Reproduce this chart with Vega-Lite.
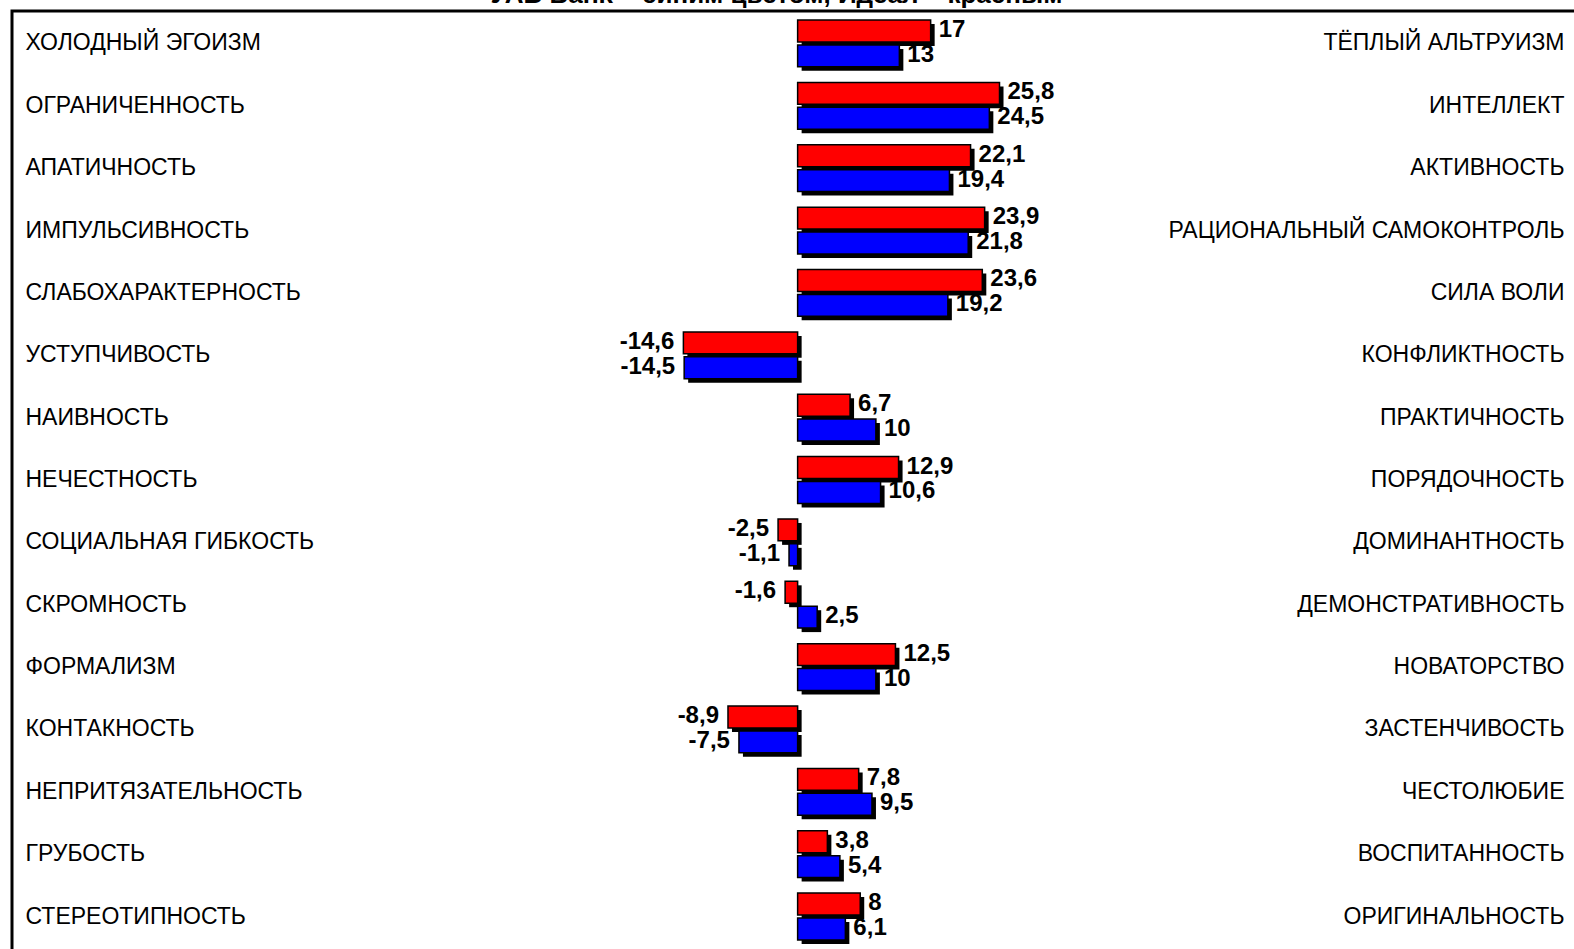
{
  "$schema": "https://vega.github.io/schema/vega-lite/v6.json",
  "autosize": "none",
  "width": 1565,
  "height": 943,
  "padding": {"left": 12, "top": 11, "right": -3, "bottom": -5},
  "background": "white",
  "title": {"text": "УАБ Bank – синим цветом, Идеал – красным", "fontSize": 26, "font": "Liberation Sans", "fontWeight": "bold", "color": "black", "anchor": "middle", "offset": 3, "dx": -18},
  "config": {
    "view": {"stroke": "black", "strokeWidth": 3},
    "locale": {"number": {"decimal": ",", "thousands": " ", "grouping": [3], "currency": ["", ""], "minus": "-"}}
  },
  "data": {"values": [
    {"key": "ХОЛОДНЫЙ ЭГОИЗМ|ТЁПЛЫЙ АЛЬТРУИЗМ", "series": "Идеал", "value": 17},
    {"key": "ХОЛОДНЫЙ ЭГОИЗМ|ТЁПЛЫЙ АЛЬТРУИЗМ", "series": "УАБ Bank", "value": 13},
    {"key": "ОГРАНИЧЕННОСТЬ|ИНТЕЛЛЕКТ", "series": "Идеал", "value": 25.8},
    {"key": "ОГРАНИЧЕННОСТЬ|ИНТЕЛЛЕКТ", "series": "УАБ Bank", "value": 24.5},
    {"key": "АПАТИЧНОСТЬ|АКТИВНОСТЬ", "series": "Идеал", "value": 22.1},
    {"key": "АПАТИЧНОСТЬ|АКТИВНОСТЬ", "series": "УАБ Bank", "value": 19.4},
    {"key": "ИМПУЛЬСИВНОСТЬ|РАЦИОНАЛЬНЫЙ САМОКОНТРОЛЬ", "series": "Идеал", "value": 23.9},
    {"key": "ИМПУЛЬСИВНОСТЬ|РАЦИОНАЛЬНЫЙ САМОКОНТРОЛЬ", "series": "УАБ Bank", "value": 21.8},
    {"key": "СЛАБОХАРАКТЕРНОСТЬ|СИЛА ВОЛИ", "series": "Идеал", "value": 23.6},
    {"key": "СЛАБОХАРАКТЕРНОСТЬ|СИЛА ВОЛИ", "series": "УАБ Bank", "value": 19.2},
    {"key": "УСТУПЧИВОСТЬ|КОНФЛИКТНОСТЬ", "series": "Идеал", "value": -14.6},
    {"key": "УСТУПЧИВОСТЬ|КОНФЛИКТНОСТЬ", "series": "УАБ Bank", "value": -14.5},
    {"key": "НАИВНОСТЬ|ПРАКТИЧНОСТЬ", "series": "Идеал", "value": 6.7},
    {"key": "НАИВНОСТЬ|ПРАКТИЧНОСТЬ", "series": "УАБ Bank", "value": 10},
    {"key": "НЕЧЕСТНОСТЬ|ПОРЯДОЧНОСТЬ", "series": "Идеал", "value": 12.9},
    {"key": "НЕЧЕСТНОСТЬ|ПОРЯДОЧНОСТЬ", "series": "УАБ Bank", "value": 10.6},
    {"key": "СОЦИАЛЬНАЯ ГИБКОСТЬ|ДОМИНАНТНОСТЬ", "series": "Идеал", "value": -2.5},
    {"key": "СОЦИАЛЬНАЯ ГИБКОСТЬ|ДОМИНАНТНОСТЬ", "series": "УАБ Bank", "value": -1.1},
    {"key": "СКРОМНОСТЬ|ДЕМОНСТРАТИВНОСТЬ", "series": "Идеал", "value": -1.6},
    {"key": "СКРОМНОСТЬ|ДЕМОНСТРАТИВНОСТЬ", "series": "УАБ Bank", "value": 2.5},
    {"key": "ФОРМАЛИЗМ|НОВАТОРСТВО", "series": "Идеал", "value": 12.5},
    {"key": "ФОРМАЛИЗМ|НОВАТОРСТВО", "series": "УАБ Bank", "value": 10},
    {"key": "КОНТАКНОСТЬ|ЗАСТЕНЧИВОСТЬ", "series": "Идеал", "value": -8.9},
    {"key": "КОНТАКНОСТЬ|ЗАСТЕНЧИВОСТЬ", "series": "УАБ Bank", "value": -7.5},
    {"key": "НЕПРИТЯЗАТЕЛЬНОСТЬ|ЧЕСТОЛЮБИЕ", "series": "Идеал", "value": 7.8},
    {"key": "НЕПРИТЯЗАТЕЛЬНОСТЬ|ЧЕСТОЛЮБИЕ", "series": "УАБ Bank", "value": 9.5},
    {"key": "ГРУБОСТЬ|ВОСПИТАННОСТЬ", "series": "Идеал", "value": 3.8},
    {"key": "ГРУБОСТЬ|ВОСПИТАННОСТЬ", "series": "УАБ Bank", "value": 5.4},
    {"key": "СТЕРЕОТИПНОСТЬ|ОРИГИНАЛЬНОСТЬ", "series": "Идеал", "value": 8},
    {"key": "СТЕРЕОТИПНОСТЬ|ОРИГИНАЛЬНОСТЬ", "series": "УАБ Bank", "value": 6.1}
  ]},
  "encoding": {
    "x": {"field": "value", "type": "quantitative", "scale": {"domain": [-100.4, 99.6], "nice": false, "zero": false}, "axis": null},
    "y": {"field": "key", "type": "nominal", "sort": null, "scale": {"paddingInner": 0, "paddingOuter": 0.061, "align": 0.17}}
  },
  "layer": [
    {
      "mark": {"type": "bar", "color": "black", "xOffset": 4},
      "encoding": {
        "y": {"field": "key", "type": "nominal", "sort": null, "title": null,
          "axis": {"orient": "left", "domain": false, "ticks": false, "grid": false, "labelExpr": "split(datum.label, '|')[0]", "labelAlign": "left", "labelPadding": -13, "labelFont": "Liberation Sans", "labelFontSize": 23, "labelColor": "black", "labelLimit": 0}},
        "yOffset": {"field": "series", "type": "nominal", "sort": ["Идеал", "УАБ Bank"], "scale": {"type": "band", "domain": ["Идеал", "УАБ Bank"], "paddingInner": 0.12, "paddingOuter": 0.313, "range": [4, 66.36]}}
      }
    },
    {
      "mark": {"type": "bar", "stroke": "black", "strokeWidth": 1.5},
      "encoding": {
        "color": {"field": "series", "type": "nominal", "scale": {"domain": ["Идеал", "УАБ Bank"], "range": ["#ff0000", "#0000ff"]}, "legend": null},
        "y": {"field": "key", "type": "nominal", "sort": null, "title": null,
          "axis": {"orient": "right", "domain": false, "ticks": false, "grid": false, "labelExpr": "split(datum.label, '|')[1]", "labelAlign": "right", "labelPadding": -13, "labelFont": "Liberation Sans", "labelFontSize": 23, "labelColor": "black", "labelLimit": 0}},
        "yOffset": {"field": "series", "type": "nominal", "sort": ["Идеал", "УАБ Bank"], "scale": {"type": "band", "domain": ["Идеал", "УАБ Bank"], "paddingInner": 0.12, "paddingOuter": 0.313, "range": [0, 62.36]}}
      }
    },
    {
      "transform": [{"filter": "datum.value >= 0"}],
      "mark": {"type": "text", "align": "left", "baseline": "middle", "dx": 8, "dy": -1, "font": "Liberation Sans", "fontSize": 24, "fontWeight": "bold", "color": "black"},
      "encoding": {
        "y": {"field": "key", "type": "nominal", "sort": null, "axis": null},
        "yOffset": {"field": "series", "type": "nominal", "sort": ["Идеал", "УАБ Bank"], "scale": {"type": "band", "domain": ["Идеал", "УАБ Bank"], "paddingInner": 0.12, "paddingOuter": 0.313, "range": [0, 62.36]}},
        "text": {"field": "value", "type": "quantitative", "format": ".3~g"}
      }
    },
    {
      "transform": [{"filter": "datum.value < 0"}],
      "mark": {"type": "text", "align": "right", "baseline": "middle", "dx": -9, "dy": -1, "font": "Liberation Sans", "fontSize": 24, "fontWeight": "bold", "color": "black"},
      "encoding": {
        "y": {"field": "key", "type": "nominal", "sort": null, "axis": null},
        "yOffset": {"field": "series", "type": "nominal", "sort": ["Идеал", "УАБ Bank"], "scale": {"type": "band", "domain": ["Идеал", "УАБ Bank"], "paddingInner": 0.12, "paddingOuter": 0.313, "range": [0, 62.36]}},
        "text": {"field": "value", "type": "quantitative", "format": ".3~g"}
      }
    }
  ],
  "resolve": {"axis": {"y": "independent"}, "scale": {"yOffset": "independent"}}
}
